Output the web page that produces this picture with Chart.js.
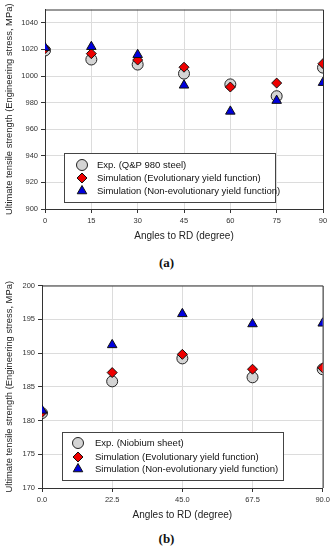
<!DOCTYPE html>
<html>
<head>
<meta charset="utf-8">
<script src="https://cdn.jsdelivr.net/npm/chart.js@4.4.0/dist/chart.umd.min.js"></script>
<style>
    body { margin: 0; background: #fff; width: 333px; height: 550px; position: relative; overflow: hidden; }
    .box { position: absolute; left: 0; width: 333px; }
    .cap { position: absolute; left: 0; width: 333px; text-align: center; font-family: 'Liberation Serif', 'Times New Roman', serif; font-weight: bold; font-size: 13px; color: #111; }
</style>
</head>
<body>
<div class="box" style="top:0;height:248px"><canvas id="chartA"></canvas></div>
<div class="cap" style="top:255px">(a)</div>
<div class="box" style="top:276px;height:251px"><canvas id="chartB"></canvas></div>
<div class="cap" style="top:531px">(b)</div>
<script>
// (a) Q&P 980 steel
const anglesA  = [0, 15, 30, 45, 60, 75, 90];
const expA     = [1019.2, 1012.4, 1008.6, 1001.8, 993.7, 984.8, 1006.3];
const evoA     = [1020.5, 1016.8, 1012.0, 1006.6, 991.7, 994.7, 1009.3];
const nonEvoA  = [1021.3, 1022.0, 1016.0, 993.0, 973.4, 981.5, 995.0];
const labelsA  = ['Exp. (Q&P 980 steel)', 'Simulation (Evolutionary yield function)', 'Simulation (Non-evolutionary yield function)'];

// (b) Niobium sheet
const anglesB  = [0, 22.5, 45, 67.5, 90];
const expB     = [181.1, 185.8, 189.2, 186.4, 187.6];
const evoB     = [181.2, 187.1, 189.8, 187.6, 187.8];
const nonEvoB  = [181.5, 191.2, 195.8, 194.3, 194.4];
const labelsB  = ['Exp. (Niobium sheet)', 'Simulation (Evolutionary yield function)', 'Simulation (Non-evolutionary yield function)'];

const xTitle = 'Angles to RD (degree)';
const yTitle = 'Ultimate tensile strength (Engineering stress, MPa)';

const FONT = "'Liberation Sans', Arial, sans-serif";

const markers = [
    { pointStyle: 'circle',   radius: 5.5, bg: '#d4d4d4', border: '#222', order: 3 },
    { pointStyle: 'rectRot',  radius: 5,   bg: '#ee0000', border: '#111', order: 2 },
    { pointStyle: 'triangle', radius: 5.5, bg: '#0000dd', border: '#111', order: 1 }
];

// top + right frame lines
const framePlugin = {
    id: 'frame',
    beforeDatasetsDraw(chart) {
        const { ctx, chartArea: a } = chart;
        ctx.save();
        ctx.strokeStyle = '#333';
        ctx.lineWidth = 1;
        ctx.beginPath();
        ctx.moveTo(a.left, a.top + 0.5);
        ctx.lineTo(a.right + 0.5, a.top + 0.5);
        ctx.lineTo(a.right + 0.5, a.bottom);
        ctx.stroke();
        ctx.restore();
    }
};

// legend box drawn inside the plot
const boxLegend = {
    id: 'boxLegend',
    afterDraw(chart, args, opts) {
        const ctx = chart.ctx;
        ctx.save();
        ctx.fillStyle = '#fff';
        ctx.fillRect(opts.x, opts.y, opts.w, opts.h);
        ctx.strokeStyle = '#444';
        ctx.lineWidth = 1;
        ctx.strokeRect(opts.x + 0.5, opts.y + 0.5, opts.w, opts.h);
        chart.data.datasets.forEach((ds, i) => {
            const y = opts.rows[i];
            ctx.fillStyle = ds.backgroundColor;
            ctx.strokeStyle = ds.borderColor;
            ctx.lineWidth = 1;
            Chart.helpers.drawPoint(ctx, { pointStyle: ds.pointStyle, radius: ds.pointRadius, rotation: 0, borderWidth: 1 }, opts.markerX, y);
            ctx.fillStyle = '#111';
            ctx.font = '9.5px ' + FONT;
            ctx.textBaseline = 'middle';
            ctx.fillText(ds.label, opts.textX, y + 0.5);
        });
        ctx.restore();
    }
};

function makeDatasets(xs, series, labels) {
    return series.map((vals, i) => ({
        label: labels[i],
        data: xs.map((x, j) => ({ x: x, y: vals[j] })),
        pointStyle: markers[i].pointStyle,
        pointRadius: markers[i].radius,
        pointHoverRadius: markers[i].radius,
        backgroundColor: markers[i].bg,
        borderColor: markers[i].border,
        borderWidth: 1,
        order: markers[i].order
    }));
}

function axisCommon() {
    return {
        grid: { color: '#dcdcdc', tickColor: '#333', tickLength: 4, lineWidth: 1 },
        border: { display: true, color: '#333', width: 1 },
        ticks: { color: '#333', font: { family: FONT, size: 7.5 }, padding: 3 }
    };
}

function renderChart(id, xs, series, labels, cfg) {
    const x = axisCommon();
    x.min = 0; x.max = 90;
    x.ticks.stepSize = cfg.xStep;
    x.ticks.callback = cfg.xFormat;
    x.title = { display: true, text: xTitle, color: '#222', font: { family: FONT, size: 10 }, padding: { top: 2, bottom: 0 } };

    const y = axisCommon();
    y.min = cfg.yMin; y.max = cfg.yMax;
    y.ticks.stepSize = cfg.yStep;
    y.ticks.includeBounds = false;
    y.ticks.callback = v => String(v);
    y.title = { display: true, text: yTitle, color: '#222', font: { family: FONT, size: 9.4 }, padding: { top: 4, bottom: 0 } };
    y.afterFit = s => { s.width = cfg.yWidth; };

    return new Chart(document.getElementById(id).getContext('2d'), {
        type: 'scatter',
        data: { datasets: makeDatasets(xs, series, labels) },
        options: {
            responsive: true,
            maintainAspectRatio: false,
            animation: false,
            layout: { padding: { top: 9.5, right: 10, bottom: 6, left: 0 } },
            plugins: {
                legend: { display: false },
                tooltip: { enabled: false },
                boxLegend: cfg.legend
            },
            scales: { x: x, y: y }
        },
        plugins: [framePlugin, boxLegend]
    });
}

renderChart('chartA', anglesA, [expA, evoA, nonEvoA], labelsA, {
    xStep: 15, xFormat: v => String(v),
    yMin: 900, yMax: 1050, yStep: 20, yWidth: 45,
    legend: { x: 64, y: 153, w: 211, h: 49, rows: [165, 178, 191], markerX: 82, textX: 97 }
});

renderChart('chartB', anglesB, [expB, evoB, nonEvoB], labelsB, {
    xStep: 22.5, xFormat: v => Number(v).toFixed(1),
    yMin: 170, yMax: 200, yStep: 5, yWidth: 42,
    legend: { x: 62, y: 156, w: 221, h: 48, rows: [167, 181, 193], markerX: 78, textX: 95 }
});
</script>
</body>
</html>
